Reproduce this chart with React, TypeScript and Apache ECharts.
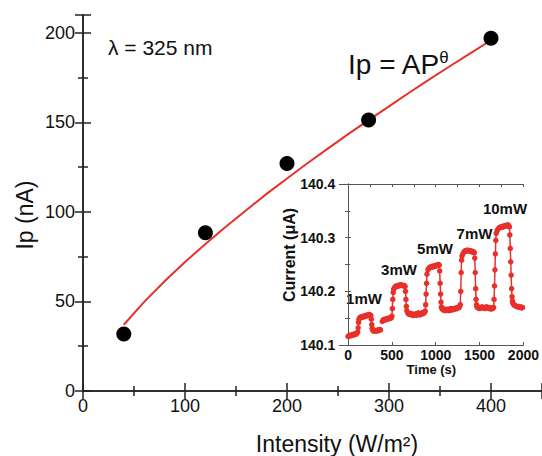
import React, { useEffect, useRef } from "react";
import * as echarts from "echarts";

const FONT = "'Liberation Sans', Arial, Helvetica, sans-serif";
const RED = "#e8302a";

// Main plot: photocurrent vs intensity
const intensity = [40, 120, 200, 280, 400];
const photocurrent = [31.8, 88.4, 127.1, 151.3, 197.0];

// Fitted power-law curve
const fitX = [40, 60, 80, 100, 120, 140, 160, 180, 200, 220, 240, 260, 280, 300, 320, 340, 360, 380, 400];
const fitY = [37.0, 49.8, 61.3, 72.0, 82.1, 91.7, 101.0, 110.1, 118.7, 127.2, 135.4, 143.5, 151.3, 159.0, 166.7, 174.2, 181.5, 188.7, 195.9];

const mainXTicks = [0, 100, 200, 300, 400];
const insetXTicks = [0, 500, 1000, 1500, 2000];
const insetXMinorTicks = [0, 250, 500, 750, 1000, 1250, 1500, 1750, 2000];

// Inset: current vs time, two recorded segments
const time1 = [0, 10, 20, 30, 40, 50, 60, 70, 80, 90, 100, 110, 115, 120, 125, 130, 140, 150, 160, 170, 180, 190, 200, 210, 220, 230, 240, 250, 260, 265, 270, 275, 280, 290, 300, 310, 320, 330, 340, 350, 360, 370];
const current1 = [140.116, 140.117, 140.118, 140.117, 140.119, 140.118, 140.12, 140.119, 140.121, 140.12, 140.122, 140.124, 140.132, 140.142, 140.148, 140.15, 140.152, 140.151, 140.153, 140.152, 140.154, 140.153, 140.155, 140.154, 140.156, 140.155, 140.157, 140.156, 140.155, 140.148, 140.138, 140.131, 140.128, 140.126, 140.127, 140.126, 140.127, 140.126, 140.128, 140.127, 140.129, 140.128];

const time2 = [390, 400, 410, 420, 430, 440, 450, 460, 470, 480, 490, 500, 505, 510, 515, 520, 530, 540, 550, 560, 570, 580, 590, 600, 610, 620, 630, 640, 650, 655, 660, 665, 670, 680, 690, 700, 710, 720, 730, 740, 750, 760, 770, 780, 790, 800, 810, 820, 830, 840, 850, 860, 870, 880, 885, 890, 895, 900, 910, 920, 930, 940, 950, 960, 970, 980, 990, 1000, 1010, 1020, 1030, 1040, 1045, 1050, 1055, 1060, 1065, 1070, 1080, 1090, 1100, 1110, 1120, 1130, 1140, 1150, 1160, 1170, 1180, 1190, 1200, 1210, 1220, 1230, 1240, 1250, 1260, 1270, 1280, 1285, 1290, 1295, 1300, 1310, 1320, 1330, 1340, 1350, 1360, 1370, 1380, 1390, 1400, 1410, 1420, 1430, 1440, 1445, 1450, 1455, 1460, 1465, 1470, 1480, 1490, 1500, 1510, 1520, 1530, 1540, 1550, 1560, 1570, 1580, 1590, 1600, 1610, 1620, 1630, 1640, 1650, 1660, 1665, 1670, 1675, 1680, 1685, 1690, 1700, 1710, 1720, 1730, 1740, 1750, 1760, 1770, 1780, 1790, 1800, 1810, 1820, 1830, 1840, 1845, 1850, 1855, 1860, 1865, 1870, 1875, 1880, 1890, 1900, 1910, 1920, 1930, 1940, 1950, 1960, 1970, 1980, 1990];
const current2 = [140.144, 140.147, 140.146, 140.148, 140.147, 140.149, 140.148, 140.15, 140.149, 140.151, 140.15, 140.154, 140.168, 140.185, 140.198, 140.204, 140.207, 140.209, 140.21, 140.209, 140.211, 140.21, 140.212, 140.211, 140.212, 140.211, 140.21, 140.211, 140.209, 140.2, 140.185, 140.172, 140.164, 140.16, 140.158, 140.157, 140.159, 140.156, 140.158, 140.155, 140.157, 140.156, 140.158, 140.155, 140.157, 140.16, 140.158, 140.156, 140.158, 140.16, 140.158, 140.161, 140.16, 140.163, 140.175, 140.195, 140.215, 140.232, 140.24, 140.243, 140.245, 140.244, 140.246, 140.245, 140.247, 140.246, 140.248, 140.247, 140.249, 140.248, 140.25, 140.249, 140.238, 140.215, 140.195, 140.18, 140.171, 140.168, 140.166, 140.165, 140.167, 140.164, 140.166, 140.165, 140.167, 140.164, 140.166, 140.168, 140.165, 140.167, 140.166, 140.168, 140.167, 140.169, 140.168, 140.17, 140.169, 140.171, 140.175, 140.2, 140.235, 140.258, 140.266, 140.27, 140.273, 140.275, 140.276, 140.275, 140.277, 140.276, 140.275, 140.276, 140.274, 140.275, 140.273, 140.274, 140.272, 140.262, 140.235, 140.205, 140.185, 140.175, 140.171, 140.169, 140.17, 140.168, 140.17, 140.169, 140.171, 140.169, 140.17, 140.168, 140.17, 140.171, 140.169, 140.17, 140.168, 140.169, 140.167, 140.169, 140.168, 140.17, 140.185, 140.21, 140.24, 140.27, 140.295, 140.308, 140.313, 140.316, 140.318, 140.319, 140.32, 140.319, 140.321, 140.32, 140.322, 140.321, 140.323, 140.322, 140.324, 140.323, 140.32, 140.305, 140.28, 140.255, 140.23, 140.205, 140.19, 140.182, 140.178, 140.175, 140.174, 140.173, 140.172, 140.171, 140.172, 140.171, 140.17, 140.171, 140.169, 140.17];

const powerLabels = ["1mW", "3mW", "5mW", "7mW", "10mW"];

const zip = (a: number[], b: number[]) => a.map((v, i) => [v, b[i]]);

export default function App() {
  const ref = useRef<HTMLDivElement>(null);
  useEffect(() => {
    if (!ref.current) return;
    const chart = echarts.init(ref.current, null, { renderer: "svg" });
    const mainLine = { lineStyle: { color: "#222", width: 1.5 } };
    const insetLine = { lineStyle: { color: "#555", width: 1 } };
    const mainTick = { inside: true, length: 8, lineStyle: { color: "#222", width: 1.5 } };
    const mainMinor = { show: true, splitNumber: 2, length: 5, lineStyle: { color: "#222", width: 1.5 } };
    const insetTick = { inside: true, length: 3, lineStyle: { color: "#555", width: 1 } };
    const insetLabel = { fontFamily: FONT, fontSize: 14, fontWeight: "bold" as const, color: "#111" };
    const labelPos = [
      [364, 298],
      [399, 269.5],
      [435, 248],
      [474.5, 233],
      [505, 208],
    ];
    chart.setOption({
      animation: false,
      backgroundColor: "#fff",
      grid: [
        { left: 83, top: 15, right: -7, bottom: 65 },
        { left: 339.3, top: 184, right: 12, bottom: 111 },
      ],
      xAxis: [
        {
          gridIndex: 0, type: "value", position: "bottom", min: 0, max: 450, interval: 100,
          axisLine: mainLine, axisTick: mainTick, minorTick: mainMinor,
          splitLine: { show: false },
          axisLabel: { fontFamily: FONT, fontSize: 18, color: "#111", margin: 6, customValues: mainXTicks },
        },
        {
          gridIndex: 0, type: "value", position: "top", min: 0, max: 450, interval: 100,
          axisLine: mainLine, axisTick: mainTick, minorTick: mainMinor,
          splitLine: { show: false }, axisLabel: { show: false },
        },
        {
          gridIndex: 1, type: "value", position: "bottom", min: -100, max: 2000,
          axisLine: insetLine, axisTick: { ...insetTick, customValues: insetXTicks },
          splitLine: { show: false },
          axisLabel: { ...insetLabel, margin: 3, customValues: insetXTicks, formatter: (v: number) => String(v) },
          name: "Time (s)", nameLocation: "middle", nameGap: 16,
          nameTextStyle: { fontFamily: FONT, fontSize: 13, fontWeight: "bold", color: "#111" },
        },
        {
          gridIndex: 1, type: "value", position: "top", min: -100, max: 2000,
          axisLine: insetLine, axisTick: { ...insetTick, customValues: insetXMinorTicks },
          splitLine: { show: false }, axisLabel: { show: false },
        },
      ],
      yAxis: [
        {
          gridIndex: 0, type: "value", position: "left", min: 0, max: 210, interval: 50,
          axisLine: mainLine, axisTick: mainTick, minorTick: mainMinor,
          splitLine: { show: false },
          axisLabel: { fontFamily: FONT, fontSize: 18, color: "#111", margin: 8, showMaxLabel: false },
        },
        {
          gridIndex: 0, type: "value", position: "right", min: 0, max: 210, interval: 50,
          axisLine: mainLine, axisTick: mainTick, minorTick: mainMinor,
          splitLine: { show: false }, axisLabel: { show: false },
        },
        {
          gridIndex: 1, type: "value", position: "left", min: 140.1, max: 140.4, interval: 0.1,
          axisLine: insetLine, axisTick: insetTick,
          minorTick: { show: true, splitNumber: 2, length: 2, lineStyle: { color: "#555" } },
          splitLine: { show: false },
          axisLabel: { ...insetLabel, margin: 4, formatter: (v: number) => v.toFixed(1) },
        },
        {
          gridIndex: 1, type: "value", position: "right", min: 140.1, max: 140.4, interval: 0.1,
          axisLine: insetLine, axisTick: insetTick,
          minorTick: { show: true, splitNumber: 2, length: 3, lineStyle: { color: "#555" } },
          splitLine: { show: false }, axisLabel: { show: false },
        },
      ],
      series: [
        {
          type: "line", xAxisIndex: 0, yAxisIndex: 0, data: zip(fitX, fitY),
          showSymbol: false, symbol: "none", lineStyle: { color: RED, width: 2 }, z: 2,
        },
        {
          type: "scatter", xAxisIndex: 0, yAxisIndex: 0, data: zip(intensity, photocurrent),
          symbolSize: 15, itemStyle: { color: "#000", opacity: 1 }, z: 3,
        },
        {
          type: "line", xAxisIndex: 2, yAxisIndex: 2, data: zip(time1, current1),
          symbol: "circle", symbolSize: 5.5, showAllSymbol: true,
          itemStyle: { color: RED, opacity: 1 }, lineStyle: { color: RED, width: 1.5 },
        },
        {
          type: "line", xAxisIndex: 2, yAxisIndex: 2, data: zip(time2, current2),
          symbol: "circle", symbolSize: 5.5, showAllSymbol: true,
          itemStyle: { color: RED, opacity: 1 }, lineStyle: { color: RED, width: 1.5 },
        },
      ],
      graphic: [
        {
          type: "text", x: 25, y: 215, rotation: Math.PI / 2,
          style: { text: "Ip (nA)", fontFamily: FONT, fontSize: 23, fill: "#111", textAlign: "center", textVerticalAlign: "middle" },
        },
        {
          type: "text", x: 337, y: 443.5,
          style: { text: "Intensity (W/m²)", fontFamily: FONT, fontSize: 23, fill: "#111", textAlign: "center", textVerticalAlign: "middle" },
        },
        {
          type: "text", x: 108, y: 47,
          style: { text: "λ = 325 nm", fontFamily: FONT, fontSize: 21, fill: "#111", textAlign: "left", textVerticalAlign: "middle" },
        },
        {
          type: "text", x: 348, y: 64,
          style: { text: "Ip = AP", fontFamily: FONT, fontSize: 28, fill: "#111", textAlign: "left", textVerticalAlign: "middle" },
        },
        {
          type: "text", x: 444, y: 57,
          style: { text: "θ", fontFamily: FONT, fontSize: 17, fill: "#111", textAlign: "center", textVerticalAlign: "middle" },
        },
        {
          type: "text", x: 289, y: 255, rotation: Math.PI / 2,
          style: { text: "Current (μA)", fontFamily: FONT, fontSize: 16, fontWeight: "bold", fill: "#111", textAlign: "center", textVerticalAlign: "middle" },
        },
        ...powerLabels.map((t, i) => ({
          type: "text", x: labelPos[i][0], y: labelPos[i][1],
          style: { text: t, fontFamily: FONT, fontSize: 15, fontWeight: "bold", fill: "#111", textAlign: "center", textVerticalAlign: "middle" },
        })),
      ],
    });
    return () => chart.dispose();
  }, []);
  return <div ref={ref} style={{ position: "absolute", left: 0, top: 0, width: 542, height: 456 }} />;
}
